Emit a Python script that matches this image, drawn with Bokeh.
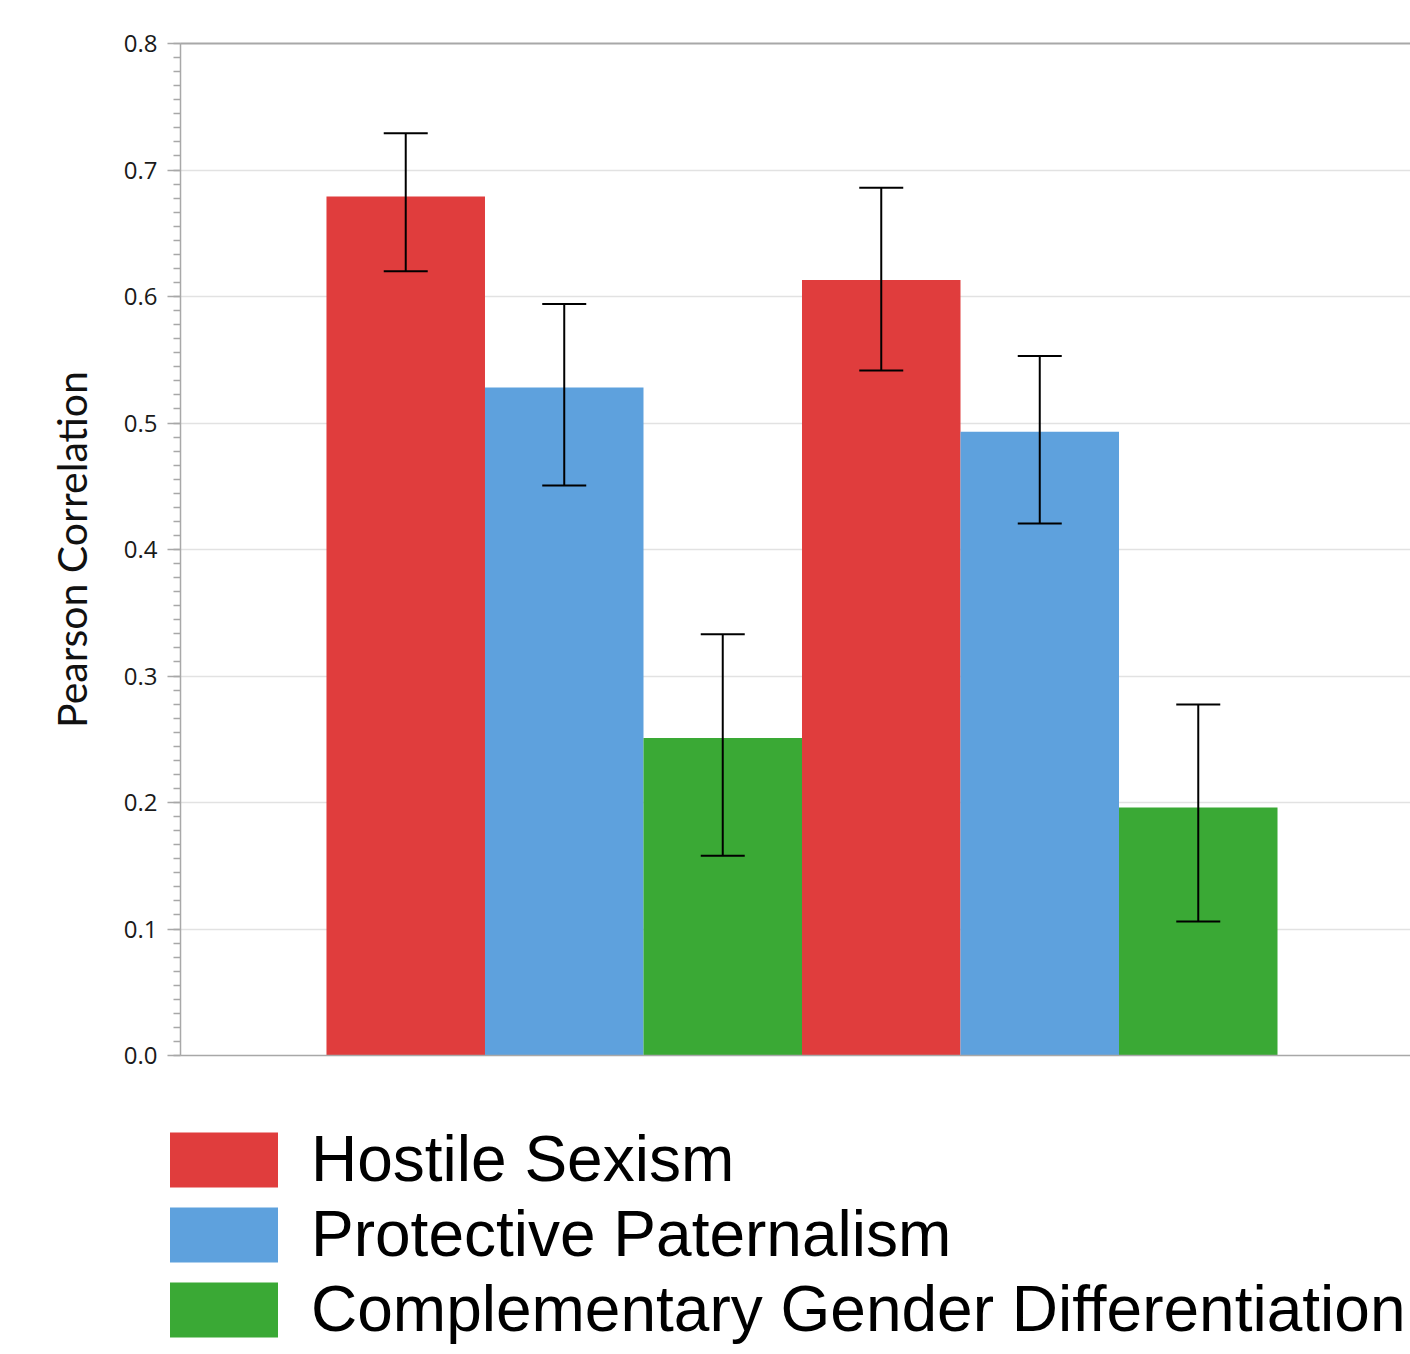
import numpy as np
from bokeh.plotting import figure
from bokeh.layouts import column
from bokeh.models import (ColumnDataSource, Range1d, LinearAxis, SingleIntervalTicker, FixedTicker,
                          PrintfTickFormatter, Whisker, TeeHead, Legend, LegendItem)
from bokeh.embed import file_html
from bokeh.resources import INLINE

# ---- data ----
series = ["Hostile Sexism", "Protective Paternalism", "Complementary Gender Differentiation"]
colors = ["#E03D3D", "#5EA1DD", "#3AA935"]
n_groups = 2
values = {
    "Hostile Sexism": [0.679, 0.613],
    "Protective Paternalism": [0.528, 0.493],
    "Complementary Gender Differentiation": [0.251, 0.196],
}
err_upper = {
    "Hostile Sexism": [0.729, 0.686],
    "Protective Paternalism": [0.594, 0.553],
    "Complementary Gender Differentiation": [0.333, 0.2775],
}
err_lower = {
    "Hostile Sexism": [0.620, 0.5415],
    "Protective Paternalism": [0.4506, 0.4206],
    "Complementary Gender Differentiation": [0.158, 0.106],
}
y_ticks_interval = 0.1

p = figure(width=1410, height=1080, output_backend="svg", toolbar_location=None,
           x_range=Range1d(0, 7.76), y_range=Range1d(0, 0.8),
           min_border_left=180, min_border_right=0, min_border_top=43, min_border_bottom=25)
p.outline_line_color = None
p.background_fill_color = "white"

# grid
p.xgrid.visible = False
p.ygrid.grid_line_color = "#e2e2e2"
p.ygrid.grid_line_width = 1.5

# y axis
ya = p.yaxis[0]
ya.ticker = SingleIntervalTicker(interval=y_ticks_interval, num_minor_ticks=9)
ya.formatter = PrintfTickFormatter(format="%.1f")
ya.axis_line_color = "#a8a8a8"
ya.axis_line_width = 1.5
ya.major_tick_line_color = "#a8a8a8"
ya.minor_tick_line_color = "#a8a8a8"
ya.major_tick_line_width = 1.5
ya.minor_tick_line_width = 1.5
ya.major_tick_out = 13
ya.major_tick_in = 0
ya.minor_tick_out = 7
ya.minor_tick_in = 0
ya.major_label_text_font = "Open Sans"
ya.major_label_text_font_size = "24px"
ya.major_label_text_color = "#1a1a1a"
ya.major_label_standoff = 10
ya.axis_label = "Pearson Correlation"
ya.axis_label_text_font = "Lato"
ya.axis_label_text_font_size = "41px"
ya.axis_label_text_font_style = "normal"
ya.axis_label_text_color = "#111111"
ya.axis_label_standoff = 25

# x axis: line only, no ticks
xa = p.xaxis[0]
xa.ticker = FixedTicker(ticks=[])
xa.axis_line_color = "#a8a8a8"
xa.axis_line_width = 1.5
xa.major_tick_line_color = None
xa.minor_tick_line_color = None

# top line
top = LinearAxis(ticker=FixedTicker(ticks=[]), axis_line_color="#a8a8a8", axis_line_width=2,
                 major_tick_line_color=None, minor_tick_line_color=None)
p.add_layout(top, "above")

# ---- legend panel ----
lg = figure(width=1410, height=274, output_backend="svg", toolbar_location=None,
            x_range=Range1d(-1, 0), y_range=Range1d(0, 1),
            min_border_left=0, min_border_right=0, min_border_top=0, min_border_bottom=0)
lg.frame_align = False
lg.axis.visible = False
lg.grid.visible = False
lg.outline_line_color = None

# bars
bar_w = 1.0
offset = 0.921 + 0.5
items = []
for i, s in enumerate(series):
    xs = [offset + g * len(series) + i for g in range(n_groups)]
    src = ColumnDataSource(dict(x=xs, top=values[s], upper=err_upper[s], lower=err_lower[s]))
    p.vbar(x="x", top="top", bottom=0, width=bar_w, source=src,
           fill_color=colors[i], line_color=None)
    w = Whisker(base="x", upper="upper", lower="lower", source=src, dimension="height",
                line_color="black", line_width=2, level="annotation",
                upper_head=TeeHead(size=44, line_width=2, line_color="black"),
                lower_head=TeeHead(size=44, line_width=2, line_color="black"))
    p.add_layout(w)
    # same data in the legend panel (out of its view) so the legend swatch is drawn there
    r = lg.vbar(x="x", top="top", bottom=0, width=bar_w, source=src,
                fill_color=colors[i], line_color=None)
    items.append(LegendItem(label=s, renderers=[r]))

legend = Legend(items=items, location=(156, 8), orientation="vertical",
                glyph_width=135, glyph_height=69, label_height=69, label_standoff=20,
                spacing=1, padding=0, margin=0, border_line_color=None,
                background_fill_alpha=0,
                label_text_font="Liberation Sans", label_text_font_size="64px",
                label_text_color="black")
lg.add_layout(legend)

open("out.html", "w").write(file_html(column(p, lg, spacing=0), INLINE))
